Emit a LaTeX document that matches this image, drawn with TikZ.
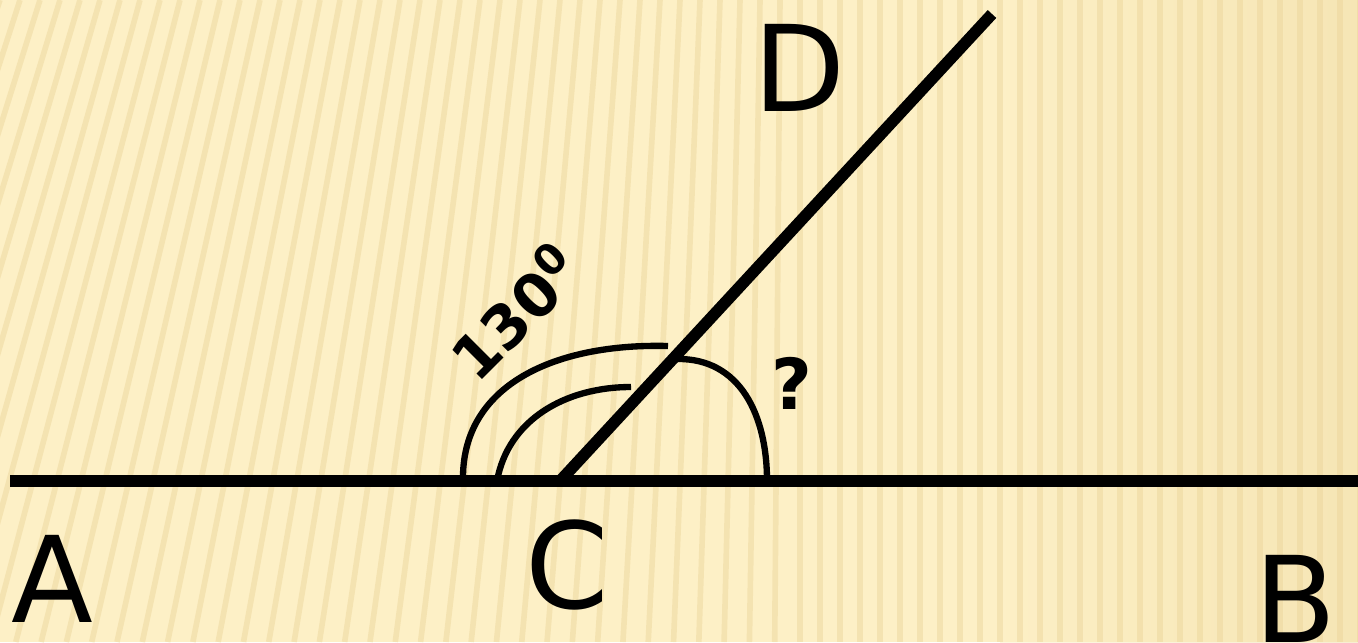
\documentclass[tikz,border=0pt]{standalone}
\usepackage{fontspec}
\setmainfont{DejaVu Sans}
\usepackage{xcolor}
\usetikzlibrary{calc}
\definecolor{paper}{HTML}{FDF0C6}
\definecolor{stripe}{HTML}{EBD498}
\definecolor{ink}{HTML}{000000}

\begin{document}
\begin{tikzpicture}[
  x=0.01cm, y=-0.01cm,
  every node/.append style={inner sep=0pt, text=ink},
  ptlabel/.style={font=\fontsize{34}{40}\selectfont},
  anglabel/.style={font=\fontsize{17}{20}\selectfont\bfseries},
  qlabel/.style={font=\fontsize{20}{24}\selectfont\bfseries},
  bigline/.style={draw=ink, line width=3.3pt},
  arcline/.style={draw=ink, line width=1.8pt},
  stripeline/.style={draw=stripe, line width=1.6pt, opacity=0.45}
]
% background
\useasboundingbox (0,0) rectangle (1358,642);
\fill[paper] (0,0) rectangle (1358,642);
\shade[left color=paper, right color=stripe!70!paper, opacity=0.5] (1000,0) rectangle (1358,642);
\begin{scope}
\clip (0,0) rectangle (1358,642);
\foreach \x in {-240,-220,...,1370} {
  \pgfmathsetmacro{\sl}{max(0,0.33*(1-max(\x,0)/800))}
  \draw[stripeline] (\x,0) -- ({\x-\sl*642},642);
}
\end{scope}

% points
\coordinate (a) at (10,481);
\coordinate (b) at (1358,481);
\coordinate (c) at (560,481);
\coordinate (d) at (992,14);
\coordinate (o1) at (463,481);
\coordinate (o2) at (668,346);
\coordinate (i1) at (497,481);
\coordinate (i2) at (631,387);
\coordinate (r1) at (677,359);
\coordinate (r2) at (767,481);

% lines
\draw[bigline] (a) -- (b);
\draw[bigline] (c) -- (d);

% angle arcs
\draw[arcline] (o1) .. controls (461,385) and (555,343) .. (o2);
\draw[arcline] (i1) .. controls (508,420) and (565,387) .. (i2);
\draw[arcline] (r1) .. controls (740,358) and (767,415) .. (r2);

% labels
\node[ptlabel] (A) at (52,579) {A};
\node[ptlabel] (B) at (1295,599) {B};
\node[ptlabel] (C) at (567,565) {C};
\node[ptlabel] (D) at (800,68) {D};
\node[anglabel, rotate=45] (ang) at (514,311) {130\textsuperscript{0}};
\node[qlabel] (q) at (792,383) {?};
\end{tikzpicture}
\end{document}
